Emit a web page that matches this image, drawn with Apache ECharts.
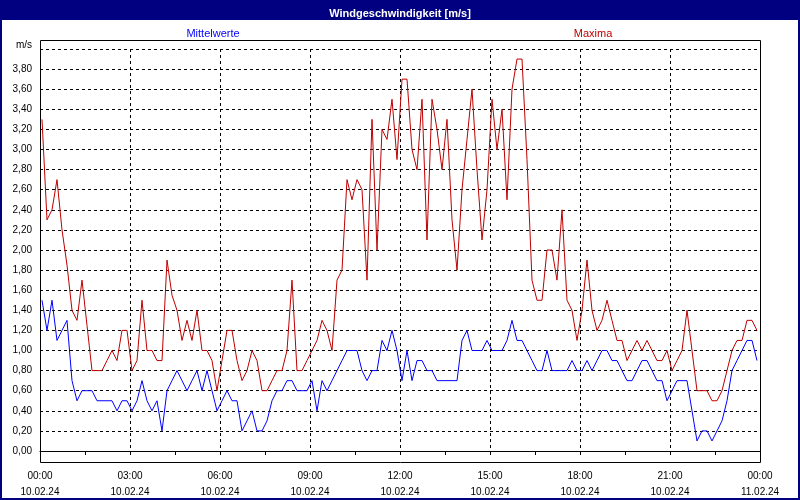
<!DOCTYPE html>
<html>
<head>
<meta charset="utf-8">
<script src="https://cdn.jsdelivr.net/npm/echarts@6/dist/echarts.min.js"></script>
<style>
html,body{margin:0;padding:0;background:#fff;}
#main{width:800px;height:500px;}
</style>
</head>
<body>
<div id="main"></div>
<script>
// Messwerte alle 10 Minuten (m/s)
var startMinute = 4;
var stepMinutes = 10;
var maxima = [3.3,2.3,2.4,2.7,2.2,1.85,1.4,1.3,1.7,1.25,0.8,0.8,0.8,0.9,1.0,0.9,1.2,1.2,0.8,0.9,
  1.5,1.0,1.0,0.9,0.9,1.9,1.55,1.4,1.1,1.3,1.1,1.4,1.0,1.0,0.9,0.6,0.9,1.2,1.2,0.9,
  0.7,0.8,1.0,0.9,0.6,0.6,0.7,0.8,0.8,1.0,1.7,0.8,0.8,0.9,1.0,1.1,1.3,1.2,1.0,1.7,
  1.8,2.7,2.5,2.7,2.6,1.7,3.3,2.0,3.2,3.1,3.5,2.9,3.7,3.7,3.0,2.8,3.5,2.1,3.5,3.2,
  2.8,3.3,2.3,1.8,2.6,3.1,3.6,2.8,2.1,2.6,3.5,3.0,3.4,2.5,3.6,3.9,3.9,2.9,1.7,1.5,
  1.5,2.0,2.0,1.7,2.4,1.5,1.4,1.1,1.4,1.9,1.4,1.2,1.3,1.5,1.3,1.1,1.1,0.9,1.0,1.1,
  1.0,1.1,1.0,0.9,0.9,1.0,0.8,0.9,1.0,1.4,1.0,0.6,0.6,0.6,0.5,0.5,0.6,0.8,1.0,1.1,
  1.1,1.3,1.3,1.2];
var mittelwerte = [1.5,1.2,1.5,1.1,1.2,1.3,0.7,0.5,0.6,0.6,0.6,0.5,0.5,0.5,0.5,0.4,0.5,0.5,0.4,0.5,
  0.7,0.5,0.4,0.5,0.2,0.6,0.7,0.8,0.7,0.6,0.7,0.8,0.6,0.8,0.6,0.4,0.5,0.6,0.5,0.5,
  0.2,0.3,0.4,0.2,0.2,0.3,0.5,0.6,0.6,0.7,0.7,0.6,0.6,0.6,0.7,0.4,0.7,0.6,0.7,0.8,
  0.9,1.0,1.0,1.0,0.8,0.7,0.8,0.8,1.1,1.0,1.2,1.0,0.7,1.0,0.7,0.9,0.9,0.8,0.8,0.7,
  0.7,0.7,0.7,0.7,1.1,1.2,1.0,1.0,1.0,1.1,1.0,1.0,1.0,1.1,1.3,1.1,1.1,1.0,0.9,0.8,
  0.8,1.0,0.8,0.8,0.8,0.8,0.9,0.8,0.8,0.9,0.8,0.9,1.0,1.0,0.9,0.9,0.8,0.7,0.7,0.8,
  0.9,0.9,0.8,0.7,0.7,0.5,0.6,0.7,0.7,0.7,0.4,0.1,0.2,0.2,0.1,0.2,0.3,0.5,0.8,0.9,
  1.0,1.1,1.1,0.9];
var zeitLabels = ['00:00','03:00','06:00','09:00','12:00','15:00','18:00','21:00','00:00'];
var datumLabels = ['10.02.24','10.02.24','10.02.24','10.02.24','10.02.24','10.02.24','10.02.24','10.02.24','11.02.24'];

function toPairs(arr){
    var out = [];
    for (var i = 0; i < arr.length; i++) {
        out.push([startMinute + i * stepMinutes, arr[i]]);
    }
    return out;
}

var myChart = echarts.init(document.getElementById('main'));
var font = 'Liberation Sans';
option = {
    backgroundColor: '#fff',
    animation: false,
    textStyle: {fontFamily: font},
    title: [
        {text: 'Windgeschwindigkeit [m/s]', left: 'center', top: 3,
         textStyle: {color: '#fff', fontSize: 11, fontWeight: 'bold', fontFamily: font}},
        {text: 'Mittelwerte', left: 208, top: 23, textAlign: 'center',
         textStyle: {color: '#0000ff', fontSize: 11, fontWeight: 'normal', fontFamily: font}},
        {text: 'Maxima', left: 588, top: 23, textAlign: 'center',
         textStyle: {color: '#c00000', fontSize: 11, fontWeight: 'normal', fontFamily: font}}
    ],
    graphic: [
        {type: 'rect', z: -10, shape: {x: 0, y: 0, width: 800, height: 20}, style: {fill: '#000080'}},
        {type: 'rect', z: -10, shape: {x: 1, y: 1, width: 798, height: 498}, style: {fill: 'none', stroke: '#000080', lineWidth: 2}},
        {type: 'rect', z: 100, shape: {x: 40.5, y: 40.5, width: 720, height: 422}, style: {fill: 'none', stroke: '#000', lineWidth: 1}}
    ],
    grid: {left: 40, right: 40, top: 49, bottom: 49},
    xAxis: {
        type: 'value', min: 0, max: 1440, interval: 180, offset: 11,
        axisLine: {show: true, lineStyle: {color: '#000'}},
        axisTick: {show: true, length: 4, lineStyle: {color: '#000'}},
        minorTick: {show: true, splitNumber: 2, length: 4, lineStyle: {color: '#000'}},
        splitLine: {show: true, lineStyle: {color: '#000', type: [3, 3]}},
        axisLabel: {
            color: '#000', fontSize: 10, lineHeight: 16, margin: 6,
            formatter: function(v){
                var i = Math.round(v / 180);
                return zeitLabels[i] + '\n' + datumLabels[i];
            }
        }
    },
    yAxis: {
        type: 'value', min: 0, max: 4, interval: 0.2,
        axisLine: {show: false},
        axisTick: {show: false},
        splitLine: {show: true, lineStyle: {color: '#000', type: [3, 3]}},
        axisLabel: {
            color: '#000', fontSize: 10, margin: 8,
            formatter: function(v){
                if (Math.abs(v - 4) < 1e-6) return '{u|m/s}';
                return v.toFixed(2).replace('.', ',');
            },
            rich: {u: {fontSize: 10, color: '#000', padding: [0, 0, 8, 0]}}
        }
    },
    series: [
        {name: 'Maxima', type: 'line', data: toPairs(maxima), showSymbol: false,
         lineStyle: {color: '#c00000', width: 1}, z: 3},
        {name: 'Mittelwerte', type: 'line', data: toPairs(mittelwerte), showSymbol: false,
         lineStyle: {color: '#0000ff', width: 1}, z: 4}
    ]
};
myChart.setOption(option);
</script>
</body>
</html>
